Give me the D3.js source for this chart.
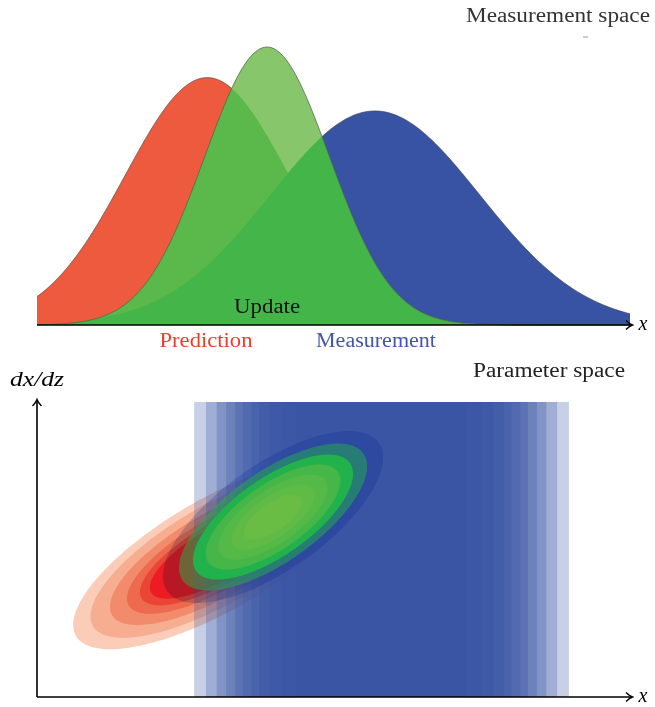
<!DOCTYPE html>
<html>
<head>
<meta charset="utf-8">
<script src="https://cdn.jsdelivr.net/npm/d3@7"></script>
<style>
  body { margin: 0; background: #fff; }
  text { font-family: "Liberation Serif", "DejaVu Serif", serif; }
</style>
</head>
<body>
<svg></svg>
<script>
// размеры
const width = 655;
const height = 707;

// верхняя панель: гауссианы (предсказание, измерение, обновление)
const curveNames = ["Prediction", "Measurement", "Update"];
const curveMeans = [2.87, 5.70, 3.88];
const curveSigmas = [1.38, 1.77, 1.05];
const curvePeaks = [0.89, 0.77, 1.0];

// нижняя панель: полосы измерения (центр и полуширины уровней)
const bandCenter = 5.81;
const bandHalfWidths = [3.16, 2.96, 2.78, 2.62, 2.47, 2.34, 2.19, 2.06, 1.89, 1.69, 1.43];

// эллипс предсказания: центр, масштабы, корреляция, уровни
const predCenter = [3.05, 4.85];
const predSigma = [2.44, 3.23];
const predRho = 0.745;
const predLevels = [1, 0.88, 0.746, 0.628, 0.539, 0.47];
const predColors = ["#fbcdb8", "#f6ad90", "#f28b6b", "#ee6a4f", "#ea4535", "#ed1c24"];

// эллипс обновления
const updCenter = [3.98, 6.10];
const updSigma = [1.35, 2.12];
const updRho = 0.69;
const updLevels = [1.375, 1.175, 1.0, 0.84, 0.68, 0.52, 0.36];
const updColors = ["#c6daf9", "#22b24b", "#22b24b", "#47b649", "#55b947", "#60bb46", "#69bd45"];
const updOpacity = [1, 0.5, 1, 1, 1, 1, 1];

let svg = d3.select("svg")
  .attr("width", width)
  .attr("height", height);

const x = d3.scaleLinear().domain([0, 10]).range([37, 630]);
const yTop = d3.scaleLinear().domain([0, 1]).range([325, 47]);
const yBot = d3.scaleLinear().domain([0, 10]).range([697, 402]);

// стрелка как в LaTeX
let defs = svg.append("defs");
defs.append("marker")
  .attr("id", "arrow")
  .attr("markerUnits", "userSpaceOnUse")
  .attr("viewBox", "-8 -6 10 12")
  .attr("refX", 0).attr("refY", 0)
  .attr("markerWidth", 10).attr("markerHeight", 12)
  .attr("orient", "auto")
  .append("path")
  .attr("d", "M-6,-4.5 Q-2.5,-1 0.5,0 Q-2.5,1 -6,4.5")
  .attr("fill", "none")
  .attr("stroke", "black")
  .attr("stroke-width", 1.4);

// ---------- верхняя панель ----------
const xs = d3.range(0, 10.0001, 0.04);
function gauss(i) {
  return xs.map(v => ({ x: v, y: curvePeaks[i] * Math.exp(-0.5 * Math.pow((v - curveMeans[i]) / curveSigmas[i], 2)) }));
}
const area = d3.area().x(d => x(d.x)).y0(yTop(0)).y1(d => yTop(d.y));
const line = d3.line().x(d => x(d.x)).y(d => yTop(d.y));

const pred = gauss(0), meas = gauss(1), upd = gauss(2);

defs.append("clipPath").attr("id", "clipRed").append("path").attr("d", area(pred));
defs.append("clipPath").attr("id", "clipBlue").append("path").attr("d", area(meas));

let topPanel = svg.append("g");
topPanel.append("path").attr("d", area(meas)).attr("fill", "#3853a3");
topPanel.append("path").attr("d", line(meas)).attr("fill", "none").attr("stroke", "#4a4a5a").attr("stroke-width", 0.7);
topPanel.append("path").attr("d", area(pred)).attr("fill", "#ee5a3d");
topPanel.append("path").attr("d", line(pred)).attr("fill", "none").attr("stroke", "#5a4a4a").attr("stroke-width", 0.7);
// зелёный поверх
topPanel.append("path").attr("d", area(upd)).attr("fill", "#87c66a");
topPanel.append("path").attr("d", area(upd)).attr("fill", "#5bb94c").attr("clip-path", "url(#clipRed)");
topPanel.append("path").attr("d", area(upd)).attr("fill", "#44b549").attr("clip-path", "url(#clipBlue)");
topPanel.append("path").attr("d", line(upd)).attr("fill", "none").attr("stroke", "#4a5a4a").attr("stroke-width", 0.7);

// ось x
svg.append("line")
  .attr("x1", x(0)).attr("y1", yTop(0))
  .attr("x2", x(10) + 2).attr("y2", yTop(0))
  .attr("stroke", "black").attr("stroke-width", 1.6)
  .attr("marker-end", "url(#arrow)");

svg.append("text").attr("x", 643).attr("y", 330).attr("font-size", 20)
  .attr("font-style", "italic").attr("text-anchor", "middle").text("x");

svg.append("text").attr("x", 650).attr("y", 22).attr("font-size", 20)
  .attr("text-anchor", "end").attr("fill", "#333")
  .attr("textLength", 184).attr("lengthAdjust", "spacingAndGlyphs")
  .text("Measurement space");
svg.append("line").attr("x1", 583).attr("x2", 588).attr("y1", 37).attr("y2", 37)
  .attr("stroke", "#999").attr("stroke-width", 1);

svg.append("text").attr("x", x(curveMeans[2])).attr("y", 313).attr("font-size", 20)
  .attr("text-anchor", "middle").attr("fill", "#111")
  .attr("textLength", 66).attr("lengthAdjust", "spacingAndGlyphs")
  .text(curveNames[2]);
svg.append("text").attr("x", 206).attr("y", 347).attr("font-size", 20)
  .attr("text-anchor", "middle").attr("fill", "#ee3b2f")
  .attr("textLength", 93).attr("lengthAdjust", "spacingAndGlyphs")
  .text(curveNames[0]);
svg.append("text").attr("x", 376).attr("y", 347).attr("font-size", 20)
  .attr("text-anchor", "middle").attr("fill", "#4356a8")
  .attr("textLength", 120).attr("lengthAdjust", "spacingAndGlyphs")
  .text(curveNames[1]);

// ---------- нижняя панель ----------
function ellipsePath(c, s, rho, r) {
  const pts = d3.range(0, 2 * Math.PI + 0.001, Math.PI / 90).map(t => [
    x(c[0] + r * s[0] * Math.cos(t)),
    yBot(c[1] + r * s[1] * (rho * Math.cos(t) + Math.sqrt(1 - rho * rho) * Math.sin(t)))
  ]);
  return d3.line()(pts) + "Z";
}

let bottomPanel = svg.append("g");

// предсказание
predLevels.forEach((r, i) => {
  bottomPanel.append("path")
    .attr("d", ellipsePath(predCenter, predSigma, predRho, r))
    .attr("fill", predColors[i]);
});

// полосы измерения
bandHalfWidths.forEach(w => {
  bottomPanel.append("rect")
    .attr("x", x(bandCenter - w))
    .attr("y", yBot(10))
    .attr("width", x(bandCenter + w) - x(bandCenter - w))
    .attr("height", yBot(0) - yBot(10))
    .attr("fill", "#3550a3")
    .attr("fill-opacity", 0.27);
});

// обновление (внешний уровень затемняет то, что под ним)
updLevels.forEach((r, i) => {
  bottomPanel.append("path")
    .attr("d", ellipsePath(updCenter, updSigma, updRho, r))
    .attr("fill", updColors[i])
    .attr("fill-opacity", updOpacity[i])
    .style("mix-blend-mode", i === 0 ? "multiply" : "normal");
});

// оси
svg.append("line")
  .attr("x1", x(0)).attr("y1", yBot(0))
  .attr("x2", x(10) + 2).attr("y2", yBot(0))
  .attr("stroke", "black").attr("stroke-width", 1.6)
  .attr("marker-end", "url(#arrow)");
svg.append("line")
  .attr("x1", x(0)).attr("y1", yBot(0))
  .attr("x2", x(0)).attr("y2", yBot(10) - 2)
  .attr("stroke", "black").attr("stroke-width", 1.6)
  .attr("marker-end", "url(#arrow)");

svg.append("text").attr("x", 643).attr("y", 702).attr("font-size", 20)
  .attr("font-style", "italic").attr("text-anchor", "middle").text("x");
svg.append("text").attr("x", 10).attr("y", 386).attr("font-size", 20)
  .attr("font-style", "italic")
  .attr("textLength", 54).attr("lengthAdjust", "spacingAndGlyphs")
  .text("dx/dz");
svg.append("text").attr("x", 625).attr("y", 377).attr("font-size", 20)
  .attr("text-anchor", "end").attr("fill", "#222")
  .attr("textLength", 152).attr("lengthAdjust", "spacingAndGlyphs")
  .text("Parameter space");
</script>
</body>
</html>
